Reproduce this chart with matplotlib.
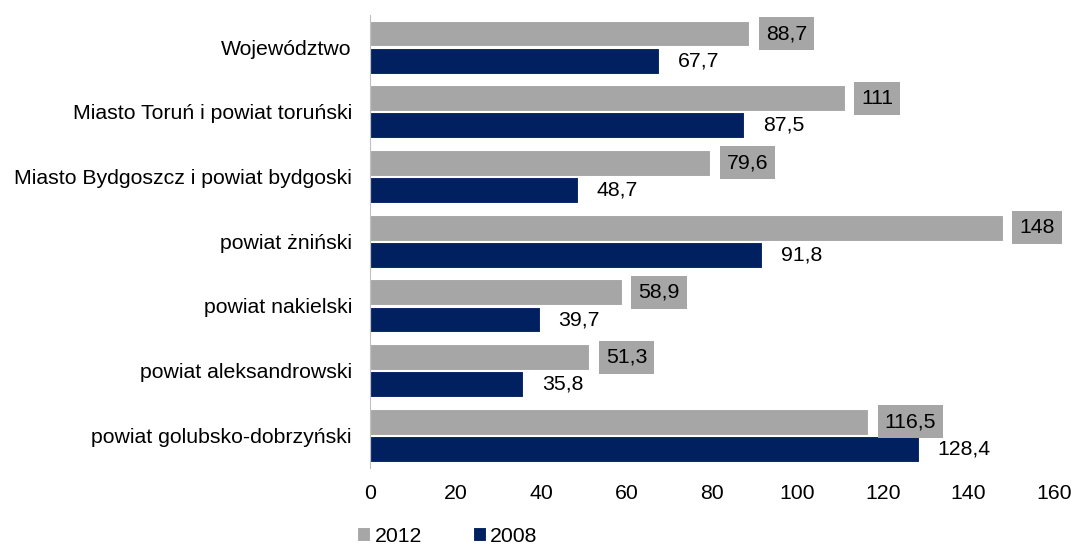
import numpy as np
import matplotlib.pyplot as plt

plt.rcParams['font.family'] = ['Liberation Sans', 'DejaVu Sans']

categories = ['Województwo', 'Miasto Toruń i powiat toruński', 'Miasto Bydgoszcz i powiat bydgoski',
              'powiat żniński', 'powiat nakielski', 'powiat aleksandrowski', 'powiat golubsko-dobrzyński']
values_2012 = [88.7, 111, 79.6, 148, 58.9, 51.3, 116.5]
values_2008 = [67.7, 87.5, 48.7, 91.8, 39.7, 35.8, 128.4]

gray = '#A6A6A6'
navy = '#002060'
fs = 15.3

fig = plt.figure(figsize=(10.77, 5.47), dpi=100)
ax = fig.add_axes([0.3435, 0.145, 0.6352, 0.828])

y = np.arange(len(categories))
h = 0.4
ax.barh(y - h / 2 - 0.01, values_2012, height=h, color=gray, edgecolor='white', linewidth=0.8, label='2012')
ax.barh(y + h / 2 + 0.01, values_2008, height=h, color=navy, edgecolor='white', linewidth=0.8, label='2008')

def fmt(v):
    s = ('%.1f' % v).rstrip('0').rstrip('.')
    return s.replace('.', ',')

for i in range(len(categories)):
    ax.annotate(fmt(values_2012[i]), (values_2012[i], y[i] - h / 2 - 0.01), xytext=(12, 0),
                textcoords='offset points', va='center', ha='left', fontsize=fs,
                bbox=dict(boxstyle='square,pad=0.33', fc=gray, ec='none'))
    ax.annotate(fmt(values_2008[i]), (values_2008[i], y[i] + h / 2 + 0.01), xytext=(13.5, 0),
                textcoords='offset points', va='center', ha='left', fontsize=fs)

ax.set_ylim(len(categories) - 0.5, -0.5)
ax.set_xlim(0, 160)
ax.set_xticks(range(0, 161, 20))
ax.set_yticks(y)
ax.set_yticklabels(categories)
ax.tick_params(axis='both', length=0, labelsize=fs)
ax.tick_params(axis='x', pad=12)
ax.tick_params(axis='y', pad=13)
for s in ['top', 'right', 'bottom']:
    ax.spines[s].set_visible(False)
ax.spines['left'].set_color('#C0C0C0')

ax.legend(loc='lower left', bbox_to_anchor=(-0.037, -0.2), ncol=2, frameon=False, fontsize=fs,
          handlelength=0.6, handleheight=0.6, handletextpad=0.2, columnspacing=2.4,
          borderaxespad=0.2)

fig.savefig('out.png', dpi=100)
